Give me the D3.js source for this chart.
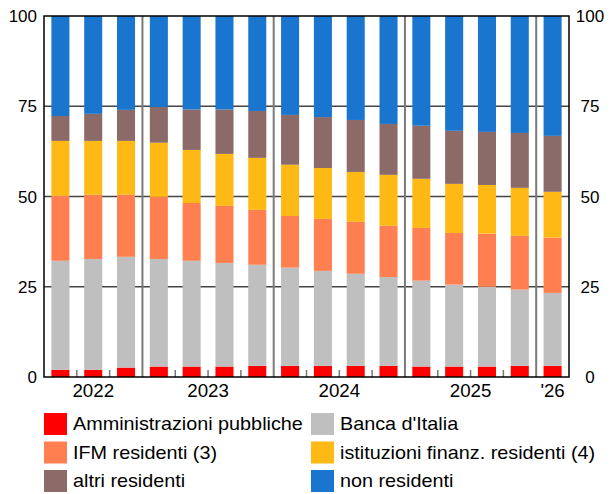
<!DOCTYPE html>
<html>
<head>
<meta charset="utf-8">
<script src="https://cdn.jsdelivr.net/npm/d3@7"></script>
<style>
  html, body { margin: 0; padding: 0; background: #fff; }
  svg { display: block; font-family: "Liberation Sans", Arial, sans-serif; }
</style>
</head>
<body>
<svg id="chart" width="611" height="494"></svg>
<script>
// Quarterly breakdown of holders (percent shares, stacked to 100)
const quarters = ["2022T2","2022T3","2022T4","2023T1","2023T2","2023T3","2023T4",
  "2024T1","2024T2","2024T3","2024T4","2025T1","2025T2","2025T3","2025T4","2026T1"];
const yearGroups = ["2022","2023","2024","2025","'26"];
const yearSizes = [3, 4, 4, 4, 1];

const amministrazioni = [2.0, 2.0, 2.6, 2.9, 2.9, 2.9, 3.1, 3.1, 3.1, 3.1, 3.1, 2.9, 2.9, 2.9, 3.1, 3.1];
const bancaItalia     = [30.2, 30.7, 30.7, 29.8, 29.3, 28.7, 28.0, 27.2, 26.3, 25.5, 24.6, 23.8, 22.7, 22.1, 21.1, 20.2];
const ifmResidenti    = [18.0, 17.8, 17.2, 17.2, 16.0, 15.8, 15.2, 14.3, 14.4, 14.4, 14.2, 14.6, 14.3, 14.7, 14.9, 15.3];
const istFinanz       = [15.2, 14.9, 14.9, 15.0, 14.7, 14.4, 14.4, 14.2, 14.1, 13.8, 14.1, 13.6, 13.6, 13.5, 13.3, 12.7];
const altriResidenti  = [6.9, 7.5, 8.6, 9.9, 11.2, 12.3, 13.0, 13.8, 14.1, 14.4, 14.1, 14.7, 14.7, 14.7, 15.2, 15.5];
const nonResidenti    = [27.7, 27.1, 26.0, 25.2, 25.9, 25.9, 26.3, 27.4, 28.0, 28.8, 29.9, 30.4, 31.8, 32.1, 32.4, 33.2];

const yTicks = [0, 25, 50, 75, 100];

const seriesNames = ["Amministrazioni pubbliche", "Banca d'Italia", "IFM residenti (3)",
  "istituzioni finanz. residenti (4)", "altri residenti", "non residenti"];
const seriesValues = [amministrazioni, bancaItalia, ifmResidenti, istFinanz, altriResidenti, nonResidenti];
const colors = ["#FF0000", "#BFBFBF", "#FF7F50", "#FFB914", "#8C6A68", "#1A75CF"];

const rows = quarters.map((q, i) => {
  const r = { q };
  seriesNames.forEach((s, k) => r[s] = seriesValues[k][i]);
  return r;
});

const svg = d3.select("#chart");
const m = { left: 44, right: 569, top: 16, bottom: 377 };

const x = d3.scaleBand().domain(quarters).range([m.left, m.right])
  .paddingInner(0.45).paddingOuter(0.225);
const y = d3.scaleLinear().domain([0, 100]).range([m.bottom, m.top]);

// horizontal gridlines
svg.append("g").selectAll("line").data(yTicks.filter(t => t > 0 && t < 100)).join("line")
  .attr("x1", m.left).attr("x2", m.right)
  .attr("y1", d => y(d)).attr("y2", d => y(d))
  .attr("stroke", "#444").attr("stroke-width", 1.5);

// year boundaries
const bounds = [];
let acc = 0;
yearSizes.forEach((n, i) => {
  bounds.push({ start: acc, n });
  acc += n;
});
svg.append("g").selectAll("line").data(bounds.slice(1)).join("line")
  .attr("x1", d => x(quarters[d.start]) - x.step() * x.paddingInner() / 2)
  .attr("x2", d => x(quarters[d.start]) - x.step() * x.paddingInner() / 2)
  .attr("y1", m.top).attr("y2", m.bottom)
  .attr("stroke", "#7a7a7a").attr("stroke-width", 2);

// stacked bars
const stack = d3.stack().keys(seriesNames)(rows);
svg.append("g").selectAll("g").data(stack).join("g")
  .attr("fill", (d, i) => colors[i])
  .selectAll("rect").data(d => d).join("rect")
  .attr("x", d => x(d.data.q))
  .attr("width", x.bandwidth())
  .attr("y", d => y(d[1]))
  .attr("height", d => y(d[0]) - y(d[1]));

// small quarter ticks inside each year
const innerTicks = [];
bounds.forEach(b => { for (let k = 1; k < b.n; k++) innerTicks.push(b.start + k); });
svg.append("g").selectAll("line").data(innerTicks).join("line")
  .attr("x1", d => x(quarters[d]) - x.step() * x.paddingInner() / 2)
  .attr("x2", d => x(quarters[d]) - x.step() * x.paddingInner() / 2)
  .attr("y1", m.bottom).attr("y2", m.bottom - 7)
  .attr("stroke", "#777").attr("stroke-width", 1.5);

// frame
svg.append("rect").attr("x", m.left).attr("y", m.top)
  .attr("width", m.right - m.left).attr("height", m.bottom - m.top)
  .attr("fill", "none").attr("stroke", "#000").attr("stroke-width", 1.5);

// y labels, both sides
const yl = svg.append("g").attr("font-size", 17).attr("fill", "#000");
yl.selectAll("text.l").data(yTicks).join("text").attr("class", "l")
  .attr("x", 37).attr("y", d => y(d)).attr("dy", "0.36em")
  .attr("text-anchor", "end").text(d => d);
yl.selectAll("text.r").data(yTicks).join("text").attr("class", "r")
  .attr("x", 590).attr("y", d => y(d)).attr("dy", "0.36em")
  .attr("text-anchor", "middle").text(d => d);

// year labels centred under each group
svg.append("g").attr("font-size", 18).selectAll("text").data(bounds).join("text")
  .attr("transform", d => {
    const cx = (x(quarters[d.start]) + x(quarters[d.start + d.n - 1]) + x.bandwidth()) / 2;
    return `translate(${cx},397) scale(1.04,1)`;
  })
  .attr("text-anchor", "middle")
  .text((d, i) => yearGroups[i]);

// legend: two columns, three rows
const legend = svg.append("g").attr("font-size", 18);
const order = [0, 2, 4, 1, 3, 5];
order.forEach((s, k) => {
  const col = Math.floor(k / 3), row = k % 3;
  const lx = col === 0 ? 44 : 311;
  const ly = 413 + row * 28.5;
  legend.append("rect").attr("x", lx).attr("y", ly).attr("width", 23).attr("height", 22)
    .attr("fill", colors[s]);
  legend.append("text")
    .attr("transform", `translate(${lx + 29},${ly + 11}) scale(1.1,1)`)
    .attr("dy", "0.36em")
    .text(seriesNames[s]);
});
</script>
</body>
</html>
